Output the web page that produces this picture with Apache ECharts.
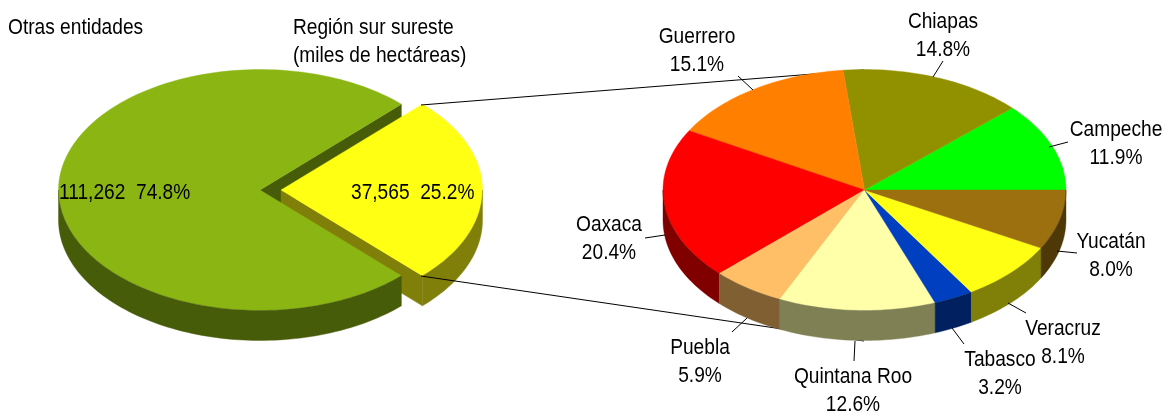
<!DOCTYPE html>
<html>
<head>
<meta charset="utf-8">
<style>
  html, body { margin: 0; padding: 0; background: #fff; }
  #chart { width: 1166px; height: 412px; }
</style>
<script src="https://cdn.jsdelivr.net/npm/echarts@6/dist/echarts.min.js"></script>
</head>
<body>
<div id="chart"></div>
<script>
// datos
const regionNames = ['Región sur sureste', 'Otras entidades'];
const regionValues = [37565, 111262];
const regionColors = ['#ffff14', '#8bb513'];
const regionSideColors = ['#807f0a', '#475c09'];

const stateNames = ['Campeche', 'Chiapas', 'Guerrero', 'Oaxaca', 'Puebla', 'Quintana Roo', 'Tabasco', 'Veracruz', 'Yucatán'];
const stateValues = [11.9, 14.8, 15.1, 20.4, 5.9, 12.6, 3.2, 8.1, 8.0];
const stateColors = ['#00ff00', '#919100', '#ff8000', '#ff0000', '#ffbf66', '#ffffaa', '#0040c0', '#ffff14', '#9c700f'];
const stateSideColors = ['#008000', '#494900', '#804000', '#800000', '#805f33', '#808055', '#002060', '#808008', '#4e3807'];

// geometria de los pasteles
const RX = 201.5, RY = 120.5, DEPTH = 30, CY = 190;
const LEFT_CX = 260, RIGHT_CX = 864.5, EXPLODE = 21;
const FONT = '"Liberation Sans", sans-serif';
const FONT_SIZE = 22;
const TEXT_SQUEEZE = 0.87; // el original usa una letra angosta

// posicion de las etiquetas de cada estado (centro del texto) y sus lineas guia
const stateLabelPos = [[1116, 144], [943, 36], [697, 51], [609, 239], [700, 362], [853, 391], [1000, 374], [1063, 343], [1111, 256]];
const stateLeaders = [
  [1068, 142, 1049, 147], [943, 61, 933, 77], [738, 76, 753, 90], [645, 238, 665, 235], [732, 332, 747, 318],
  [854, 361, 855, 341], [964, 344, 952, 328], [1026, 313, 1008, 303], [1077, 253, 1057, 251]
];
const connectors = [[421, 105, 864, 70], [421, 276, 864, 341]];

function pt(cx, cy, deg) {
  const a = deg * Math.PI / 180;
  return [cx + RX * Math.cos(a), cy - RY * Math.sin(a)];
}

function arc(cx, cy, from, to) {
  const pts = [];
  const n = Math.max(2, Math.ceil((to - from) / 1.5));
  for (let i = 0; i <= n; i++) pts.push(pt(cx, cy, from + (to - from) * i / n));
  return pts;
}

function poly(points, color, z2) {
  return {
    type: 'polygon',
    z2: z2,
    shape: { points: points },
    style: { fill: color, stroke: color, lineWidth: 0.4 }
  };
}

// cara superior + pared exterior de una rebanada
function slice(cx, from, to, color, side, zTop) {
  const out = [poly([[cx, CY]].concat(arc(cx, CY, from, to)), color, zTop)];
  // la pared solo se ve en la mitad de abajo (180-360, o -180-0)
  [[180, 360], [-180, 0]].forEach(r => {
    const a = Math.max(from, r[0]), b = Math.min(to, r[1]);
    if (b > a) {
      const top = arc(cx, CY, a, b);
      const bottom = top.map(p => [p[0], p[1] + DEPTH]).reverse();
      out.push(poly(top.concat(bottom), side, zTop));
    }
  });
  return out;
}

// pared recta del corte
function cutWall(cx, deg, side, z2) {
  const p = pt(cx, CY, deg);
  return poly([[cx, CY], p, [p[0], p[1] + DEPTH], [cx, CY + DEPTH]], side, z2);
}

function sweeps(values, start) {
  const total = values.reduce((s, v) => s + v, 0);
  let a = start;
  return values.map(v => {
    const from = a;
    a += v / total * 360;
    return [from, a];
  });
}

const regionSweeps = sweeps(regionValues, -regionValues[0] / (regionValues[0] + regionValues[1]) * 180);
const stateSweeps = sweeps(stateValues, 0);

function renderRegion(params, api) {
  const i = params.dataIndex;
  const s = regionSweeps[i];
  let children;
  if (i === 0) {
    // rebanada separada, queda debajo de la cara verde
    const cx = LEFT_CX + EXPLODE;
    children = slice(cx, s[0], s[1], regionColors[0], regionSideColors[0], 3);
    children.push(cutWall(cx, s[0], regionSideColors[0], 2));
  } else {
    children = slice(LEFT_CX, s[0], s[1], regionColors[1], regionSideColors[1], 4);
    children.push(cutWall(LEFT_CX, s[0], regionSideColors[1], 1));
  }
  return { type: 'group', children: children };
}

function renderState(params, api) {
  const i = params.dataIndex;
  const s = stateSweeps[i];
  return { type: 'group', children: slice(RIGHT_CX, s[0], s[1], stateColors[i], stateSideColors[i], 1) };
}

function renderLine(params, api) {
  return {
    type: 'line',
    shape: { x1: api.value(0), y1: api.value(1), x2: api.value(2), y2: api.value(3) },
    style: { stroke: '#000', lineWidth: 1 }
  };
}

function textEl(text, x, y, align) {
  return {
    type: 'text',
    x: x,
    y: y,
    scaleX: TEXT_SQUEEZE,
    style: {
      text: text, x: 0, y: 0, fill: '#000', font: FONT_SIZE + 'px ' + FONT,
      textAlign: align, textVerticalAlign: 'middle', lineHeight: 28
    }
  };
}

function pct(v, total) {
  return (v / total * 100).toFixed(1) + '%';
}

const fmt = v => v.toLocaleString('en-US');
const regionTotal = regionValues[0] + regionValues[1];

const texts = [
  textEl(regionNames[1], 8, 28, 'left'),
  textEl(regionNames[0] + '\n(miles de hectáreas)', 293, 42, 'left'),
  textEl(fmt(regionValues[1]) + '  ' + pct(regionValues[1], regionTotal), 59, 193, 'left'),
  textEl(fmt(regionValues[0]) + '  ' + pct(regionValues[0], regionTotal), 351, 193, 'left')
];
stateNames.forEach((n, i) => {
  texts.push(textEl(n + '\n' + stateValues[i].toFixed(1) + '%', stateLabelPos[i][0], stateLabelPos[i][1], 'center'));
});

const chart = echarts.init(document.getElementById('chart'));
chart.setOption({
  animation: false,
  backgroundColor: '#fff',
  tooltip: { show: false },
  series: [
    { type: 'custom', coordinateSystem: 'none', z: 2, silent: true, data: regionValues, renderItem: renderRegion },
    { type: 'custom', coordinateSystem: 'none', z: 3, silent: true, data: connectors, renderItem: renderLine },
    { type: 'custom', coordinateSystem: 'none', z: 4, silent: true, data: stateValues, renderItem: renderState },
    { type: 'custom', coordinateSystem: 'none', z: 5, silent: true, data: stateLeaders, renderItem: renderLine },
    { type: 'custom', coordinateSystem: 'none', z: 6, silent: true, data: [0],
      renderItem: () => ({ type: 'group', children: texts }) }
  ]
});
</script>
</body>
</html>
